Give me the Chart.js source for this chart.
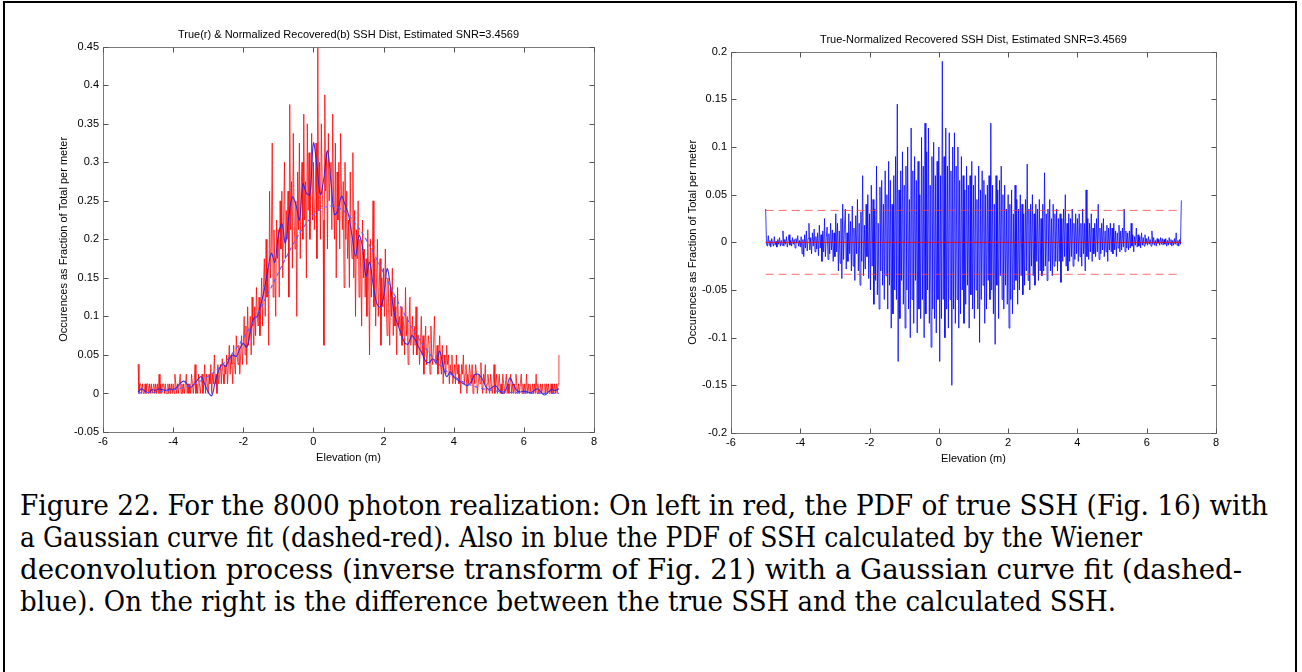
<!DOCTYPE html>
<html>
<head>
<meta charset="utf-8">
<script src="https://cdn.jsdelivr.net/npm/chart.js@4.4.1/dist/chart.umd.min.js"></script>
<style>
html,body{margin:0;padding:0;background:#fff;width:1302px;height:672px;overflow:hidden;}
#frame{position:absolute;left:3px;top:1px;width:1290px;height:700px;border:2px solid #000;}
#c1{position:absolute;left:0;top:0;}
#c2{position:absolute;left:650px;top:0;}
#caption{position:absolute;left:20px;top:490px;font-family:'DejaVu Serif',serif;font-size:28px;line-height:32px;color:#000;}
#caption div{white-space:nowrap;height:32px;}
#caption span{display:inline-block;transform-origin:0 50%;}
</style>
</head>
<body>
<div id="frame"></div>
<canvas id="c1" width="650" height="480"></canvas>
<canvas id="c2" width="652" height="480"></canvas>
<div id="caption">
<div><span>Figure 22. For the 8000 photon realization: On left in red, the PDF of true SSH (Fig. 16) with</span></div>
<div><span>a Gaussian curve fit (dashed-red). Also in blue the PDF of SSH calculated by the Wiener</span></div>
<div><span>deconvolution process (inverse transform of Fig. 21) with a Gaussian curve fit (dashed-</span></div>
<div><span>blue). On the right is the difference between the true SSH and the calculated SSH.</span></div>
</div>
<script>
// ---------------- DATA ----------------
const xTicks = [-6, -4, -2, 0, 2, 4, 6, 8];
const leftTitle = 'True(r) & Normalized Recovered(b) SSH Dist, Estimated SNR=3.4569';
const rightTitle = 'True-Normalized Recovered SSH Dist, Estimated SNR=3.4569';
const xTitle = 'Elevation (m)';
const yTitle = 'Occurences as Fraction of Total per meter';

// Red: true SSH PDF, bins from -5 to 7 every 0.025 m (one row = 0.5 m)
const trueStart = -5, trueStep = 0.025;
const trueSSH = [
0.038,0,0.0125,0.0125,0,0.0125,0,0,0.0125,0,0.0125,0.0125,0,0.0125,0,0.0125,0,0,0.0125,0,
0.0125,0,0.0125,0,0.025,0,0.0125,0,0.0125,0.0125,0,0.0125,0,0,0.0125,0,0.0125,0,0.0125,0,
0.0125,0,0.025,0.0125,0,0.0125,0,0.0125,0.025,0,0.0125,0,0.0125,0,0.0125,0.025,0,0.0125,0,0.0125,
0,0.025,0.0125,0,0.0125,0.0375,0,0.0125,0,0.025,0.0125,0,0.0125,0.025,0,0.0125,0.0375,0,0.025,0.0125,
0,0.025,0.0125,0.0375,0,0.025,0.0125,0.05,0.0125,0.025,0,0.0375,0.0125,0.025,0.0375,0.0125,0.045,0.025,0.0125,0.0375,
0.025,0.05,0.0125,0.0375,0.0625,0.025,0.05,0.0375,0.0125,0.0625,0.0375,0.025,0.075,0.05,0.0375,0.0625,0.025,0.05,0.075,0.0375,
0.0625,0.1,0.05,0.0875,0.0375,0.1125,0.0625,0.075,0.1,0.05,0.125,0.0875,0.0625,0.1125,0.075,0.1375,0.1,0.0875,0.125,0.075,
0.1125,0.15,0.0875,0.1375,0.175,0.1,0.2,0.125,0.1625,0.0625,0.2625,0.15,0.1875,0.325,0.125,0.2125,0.1625,0.1,0.225,0.175,
0.2125,0.125,0.25,0.1875,0.2625,0.15,0.225,0.3,0.175,0.2375,0.2,0.2625,0.125,0.375,0.2125,0.275,0.1625,0.3375,0.225,0.1875,
0.25,0.1,0.2875,0.2125,0.325,0.175,0.2625,0.3,0.2,0.3625,0.225,0.275,0.15,0.35,0.2375,0.3125,0.2,0.2625,0.3375,0.225,
0.3,0.2125,0.25,0.325,0.175,0.45,0.2375,0.3,0.2,0.35,0.275,0.225,0.0625,0.3875,0.2625,0.3125,0.1875,0.3375,0.25,0.2875,
0.3,0.2125,0.3625,0.25,0.2,0.325,0.15,0.2875,0.225,0.3,0.1875,0.3375,0.2625,0.2125,0.275,0.1375,0.3,0.2,0.2625,0.175,
0.225,0.1375,0.2875,0.2,0.175,0.3125,0.15,0.2375,0.1,0.2125,0.175,0.25,0.125,0.2,0.1625,0.0875,0.225,0.15,0.1875,0.125,
0.175,0.1,0.2125,0.15,0.05,0.2,0.125,0.1625,0.25,0.1125,0.175,0.0875,0.15,0.2,0.1,0.1375,0.175,0.0625,0.15,0.1125,
0.1625,0.1,0.1875,0.125,0.075,0.15,0.1125,0.0625,0.1375,0.1,0.1625,0.075,0.125,0.0875,0.1125,0.05,0.1375,0.0875,0.1,0.075,
0.1125,0.0625,0.1,0.0875,0.05,0.1375,0.075,0.1,0.0375,0.0875,0.125,0.0625,0.075,0.1,0.05,0.0875,0.0625,0.1125,0.05,0.075,
0.075,0.0375,0.0625,0.1,0.05,0.075,0.025,0.0625,0.0875,0.0375,0.05,0.075,0.0625,0.025,0.0875,0.05,0.0375,0.0625,0.1,0.05,
0.0375,0.0625,0.025,0.05,0.075,0.0375,0.025,0.0625,0.0125,0.05,0.0375,0.025,0.0625,0.0375,0.05,0.0125,0.0375,0.025,0.05,0.0125,
0.025,0.0375,0.0125,0.05,0.025,0.0375,0.0125,0.025,0,0.0375,0.025,0.05,0.0125,0.025,0.0375,0,0.025,0.0125,0.0375,0.025,
0.0125,0.0375,0,0.025,0.0125,0.0375,0.025,0,0.0125,0.025,0.0125,0.04,0.0125,0,0.025,0.0125,0.0375,0,0.0125,0.025,
0.0125,0,0.025,0.0125,0,0.0125,0.0375,0,0.0125,0.025,0,0.0125,0.025,0,0.0125,0,0.025,0.0125,0,0.0125,
0.025,0,0.0125,0,0.0125,0.025,0,0.0125,0,0.0125,0,0.025,0.0125,0,0.0125,0,0.0125,0.025,0,0.0125,
0,0.0125,0,0.025,0,0.0125,0,0.0125,0,0,0.0125,0,0.0125,0,0.025,0,0.0125,0,0,0.0125,
0,0.0125,0,0,0.0125,0,0.0125,0,0.0125,0,0,0.0125,0,0.0125,0,0.0125,0,0.0125,0,0.0125,
0.05
];

// Blue: recovered (Wiener deconvolution) PDF, every 0.1 m from -5 to 7
const recStart = -5, recStep = 0.1;
const recoveredSSH = [
0.002,0.006,0.003,0.001,0.005,0.004,0.006,0.005,0.004,0.006,
0.005,0.008,0.013,0.016,0.012,0.008,0.012,0.018,0.022,0.012,
0.002,-0.003,0.015,0.03,0.038,0.035,0.045,0.05,0.048,0.058,
0.065,0.06,0.08,0.098,0.1,0.115,0.135,0.16,0.182,0.17,
0.205,0.22,0.195,0.23,0.255,0.245,0.225,0.272,0.26,0.258,
0.325,0.295,0.258,0.28,0.315,0.275,0.232,0.238,0.256,0.245,
0.232,0.205,0.178,0.205,0.19,0.152,0.17,0.142,0.118,0.112,
0.125,0.162,0.138,0.105,0.09,0.078,0.066,0.064,0.075,0.07,
0.06,0.052,0.042,0.04,0.045,0.04,0.055,0.035,0.022,0.028,
0.022,0.018,0.015,0.012,0.01,0.015,0.024,0.025,0.02,0.01,
0.005,0.008,0.01,0.004,0,0.006,0.02,0.012,0.004,0.002,
0.003,0.002,0.001,0.004,0.006,0.001,-0.002,0.002,0.005,0.004,
0.006
];

// Blue dashed: Gaussian fit of recovered PDF, every 0.25 m from -5 to 7
const fitStart = -5, fitStep = 0.25;
const gaussFit = [
0.0007,0.0011,0.0018,0.0030,0.0047,0.0071,0.0107,0.0156,0.0222,0.0309,
0.0419,0.0555,0.0717,0.0904,0.1112,0.1336,0.1566,0.1791,0.1999,0.2177,
0.2314,0.2401,0.243,0.2401,0.2314,0.2177,0.1999,0.1791,0.1566,0.1336,
0.1112,0.0904,0.0717,0.0555,0.0419,0.0309,0.0222,0.0156,0.0107,0.0071,
0.0047,0.0030,0.0018,0.0011,0.0007,0.0004,0.0002,0.0001,0.0001
];

// Right: true minus recovered, every 0.025 m from -5 to 7 (one row = 0.5 m)
const diffStart = -5, diffStep = 0.025;
const diffSSH = [
0.035,-0.002,-0.004,0.007,-0.003,0.002,-0.005,0.004,-0.001,-0.004,0.006,-0.003,0.001,-0.005,0.003,-0.002,0.005,-0.004,0.002,-0.003,
0.012,-0.004,0.003,-0.002,0.006,-0.005,0.001,0.008,-0.003,0.002,-0.004,0.005,-0.002,0.003,-0.006,0.004,-0.001,0.007,-0.004,0.002,
-0.005,0.006,-0.012,0.003,-0.015,0.008,-0.006,0.012,-0.009,0.004,0.02,-0.008,0.005,-0.012,0.01,-0.004,0.014,-0.01,0.006,-0.007,
0.01,-0.014,0.018,-0.006,0.008,-0.02,0.012,-0.01,0.025,-0.015,0.005,0.016,-0.018,0.009,-0.012,0.02,-0.008,0.013,-0.02,0.01,
-0.015,0.03,-0.01,0.02,-0.03,0.012,-0.022,0.025,-0.038,0.04,-0.018,0.015,0.035,-0.028,0.01,-0.02,0.03,-0.012,0.022,-0.03,
0.038,-0.025,0.015,-0.04,0.028,-0.012,0.045,-0.03,0.02,-0.045,0.032,-0.02,0.07,-0.035,0.018,-0.028,0.04,-0.015,0.05,-0.038,
0.03,-0.05,0.06,-0.025,0.045,-0.065,0.035,-0.04,0.08,-0.055,0.02,-0.07,0.058,-0.03,0.065,-0.045,0.04,-0.06,0.075,-0.035,
0.05,-0.07,0.085,-0.045,0.065,-0.09,0.04,-0.075,0.07,-0.05,0.09,-0.06,0.145,-0.125,0.055,-0.08,0.075,-0.04,0.095,-0.065,
0.06,-0.09,0.08,-0.05,0.1,-0.07,0.045,-0.1,0.12,-0.06,0.075,-0.085,0.09,-0.04,0.065,-0.095,0.085,-0.07,0.05,-0.08,
0.11,-0.06,0.08,-0.1,0.125,-0.075,0.095,-0.05,0.12,-0.085,0.06,-0.11,0.09,-0.07,0.105,-0.08,0.07,-0.095,0.085,-0.06,
0.1,-0.125,0.07,-0.08,0.19,-0.06,0.09,-0.1,0.12,-0.07,0.08,-0.09,0.115,-0.06,0.075,-0.15,0.1,-0.07,0.115,-0.085,
0.08,-0.06,0.1,-0.09,0.065,-0.075,0.09,-0.05,0.07,-0.085,0.055,-0.065,0.08,-0.045,0.06,-0.09,0.07,-0.055,0.085,-0.07,
0.06,-0.08,0.07,-0.05,0.045,-0.07,0.08,-0.105,0.055,-0.06,0.075,-0.045,0.065,-0.085,0.05,-0.07,0.06,-0.04,0.07,-0.06,
0.125,-0.05,0.06,-0.075,0.04,-0.107,0.07,-0.045,0.055,-0.08,0.065,-0.035,0.08,-0.06,0.05,-0.07,0.06,-0.045,0.035,-0.065,
0.05,-0.09,0.04,-0.06,0.055,-0.075,0.03,-0.05,0.06,-0.04,0.045,-0.065,0.035,-0.05,0.05,-0.035,0.04,-0.055,0.03,-0.045,
0.045,-0.03,0.082,-0.04,0.035,-0.05,0.04,-0.025,0.05,-0.035,0.03,-0.045,0.04,-0.02,0.035,-0.04,0.045,-0.03,0.025,-0.035,
0.04,-0.03,0.073,-0.025,0.03,-0.04,0.035,-0.02,0.045,-0.03,0.025,-0.035,0.04,-0.025,0.03,-0.02,0.035,-0.03,0.025,-0.02,
0.03,-0.042,0.025,-0.02,0.035,-0.015,0.05,-0.025,0.02,-0.03,0.03,-0.02,0.025,-0.015,0.035,-0.025,0.02,-0.018,0.03,-0.012,
0.025,-0.02,0.03,-0.015,0.02,-0.025,0.035,-0.012,0.02,-0.03,0.055,-0.015,0.025,-0.018,0.02,-0.01,0.03,-0.02,0.015,-0.012,
0.02,-0.015,0.025,-0.01,0.04,-0.018,0.015,-0.012,0.02,-0.008,0.025,-0.015,0.012,-0.01,0.018,-0.02,0.015,-0.008,0.02,-0.01,
0.015,-0.012,0.02,-0.008,0.012,-0.015,0.01,-0.006,0.018,-0.01,0.012,-0.008,0.015,-0.005,0.035,-0.01,0.012,-0.006,0.01,-0.008,
0.012,-0.006,0.02,-0.004,0.008,-0.01,0.006,-0.003,0.015,-0.005,0.008,-0.004,0.006,-0.006,0.01,-0.003,0.005,-0.004,0.008,-0.002,
0.004,-0.003,0.006,-0.002,0.003,-0.004,0.012,-0.002,0.005,-0.003,0.002,-0.004,0.004,-0.001,0.003,-0.003,0.005,-0.002,0.004,-0.003,
0.003,-0.002,0.004,-0.004,0.002,-0.003,0.005,-0.002,0.003,-0.004,0.002,-0.003,0.004,-0.002,0.01,-0.003,0.002,-0.004,0.003,-0.002,
0.044
];

// Right: zero line and +/- band lines
const bandX = [-5, 7];
const zeroLine = [0, 0];
const upperBand = [0.0335, 0.0335];
const lowerBand = [-0.0335, -0.0335];

// ---------------- CHARTS ----------------
Chart.defaults.font.family = "'Liberation Sans', Arial, sans-serif";
Chart.defaults.font.size = 11;
Chart.defaults.color = '#000';

function toPoints(start, step, values) {
  return values.map((v, i) => ({x: +(start + i * step).toFixed(4), y: v}));
}
function pairPoints(xs, ys) { return xs.map((x, i) => ({x: x, y: ys[i]})); }
const fmt = v => String(+Number(v).toFixed(4));

const matlabBox = {
  id: 'matlabBox',
  afterDatasetsDraw(chart) {
    const {ctx, chartArea: a, scales} = chart;
    const x = scales.x, y = scales.y;
    ctx.save();
    ctx.lineWidth = 1;
    ctx.strokeStyle = '#7a7a7a';
    ctx.beginPath();
    const L = Math.round(a.left) + 0.5, R = Math.round(a.right) + 0.5;
    const T = Math.round(a.top) + 0.5, B = Math.round(a.bottom) + 0.5;
    ctx.moveTo(L, T); ctx.lineTo(R, T); ctx.lineTo(R, B); ctx.lineTo(L, B); ctx.closePath();
    ctx.stroke();
    ctx.strokeStyle = '#555';
    ctx.beginPath();
    x.ticks.forEach(t => {
      const px = Math.round(x.getPixelForValue(t.value)) + 0.5;
      ctx.moveTo(px, B); ctx.lineTo(px, B - 5);
      ctx.moveTo(px, T); ctx.lineTo(px, T + 5);
    });
    y.ticks.forEach(t => {
      const py = Math.round(y.getPixelForValue(t.value)) + 0.5;
      ctx.moveTo(L, py); ctx.lineTo(L + 5, py);
      ctx.moveTo(R, py); ctx.lineTo(R - 5, py);
    });
    ctx.stroke();
    ctx.restore();
  }
};

function scalesFor(ymin, ymax, ystep, yWidth) {
  return {
    x: {
      type: 'linear', min: xTicks[0], max: xTicks[xTicks.length - 1],
      afterBuildTicks: s => { s.ticks = xTicks.map(v => ({value: v})); },
      ticks: {padding: 3, maxRotation: 0, autoSkip: false, callback: fmt, color: '#000'},
      grid: {display: false, drawTicks: false},
      border: {display: false},
      title: {display: true, text: xTitle, padding: 0, color: '#000'},
      afterFit: s => { s.height = 32.6; }
    },
    y: {
      type: 'linear', min: ymin, max: ymax,
      ticks: {stepSize: ystep, padding: 4, callback: fmt, color: '#000'},
      grid: {display: false, drawTicks: false},
      border: {display: false},
      title: {display: true, text: yTitle, padding: 0, color: '#000'},
      afterFit: s => { s.width = yWidth; }
    }
  };
}

const lineBase = {pointRadius: 0, borderWidth: 1, fill: false, borderJoinStyle: 'round', tension: 0};

new Chart(document.getElementById('c1'), {
  type: 'line',
  data: {
    datasets: [
      Object.assign({}, lineBase, {label: 'Gaussian fit', data: toPoints(fitStart, fitStep, gaussFit),
        borderColor: 'rgba(90,90,255,0.95)', borderWidth: 1.2, borderDash: [4, 3], tension: 0.4, order: 0}),
      Object.assign({}, lineBase, {label: 'Recovered', data: toPoints(recStart, recStep, recoveredSSH),
        borderColor: 'rgba(50,30,220,0.9)', borderWidth: 1.1, tension: 0.35, order: 1}),
      Object.assign({}, lineBase, {label: 'True', data: toPoints(trueStart, trueStep, trueSSH),
        borderColor: 'rgba(255,0,0,0.85)', borderWidth: 0.9, order: 2})
    ]
  },
  options: {
    responsive: false, animation: false, events: [],
    layout: {padding: {left: 57.4, right: 56, top: 27.9, bottom: 15.4}},
    plugins: {
      legend: {display: false}, tooltip: {enabled: false},
      title: {display: true, text: leftTitle, fullSize: false, padding: {top: 0, bottom: 5.6},
        font: {size: 11, weight: 'normal'}, color: '#000'}
    },
    scales: scalesFor(-0.05, 0.45, 0.05, 45.6)
  },
  plugins: [matlabBox]
});

new Chart(document.getElementById('c2'), {
  type: 'line',
  data: {
    datasets: [
      Object.assign({}, lineBase, {label: 'zero', data: pairPoints(bandX, zeroLine), borderColor: 'rgba(255,0,0,0.9)', order: 0}),
      Object.assign({}, lineBase, {label: 'upper', data: pairPoints(bandX, upperBand), borderColor: 'rgba(255,60,60,0.75)', borderDash: [8, 5], order: 0}),
      Object.assign({}, lineBase, {label: 'lower', data: pairPoints(bandX, lowerBand), borderColor: 'rgba(255,60,60,0.75)', borderDash: [8, 5], order: 0}),
      Object.assign({}, lineBase, {label: 'Difference', data: toPoints(diffStart, diffStep, diffSSH), borderColor: 'rgba(0,0,255,0.85)', borderWidth: 0.9, order: 1})
    ]
  },
  options: {
    responsive: false, animation: false, events: [],
    layout: {padding: {left: 36.4, right: 86, top: 32.9, bottom: 14.4}},
    plugins: {
      legend: {display: false}, tooltip: {enabled: false},
      title: {display: true, text: rightTitle, fullSize: false, padding: {top: 0, bottom: 5.6},
        font: {size: 11, weight: 'normal'}, color: '#000'}
    },
    scales: scalesFor(-0.2, 0.2, 0.05, 44.6)
  },
  plugins: [matlabBox]
});

// ---------------- CAPTION FIT ----------------
const captionWidths = [1248, 1122, 1222, 1096];
function fitCaption() {
  const spans = document.querySelectorAll('#caption span');
  spans.forEach((s, i) => {
    s.style.transform = 'none';
    const w = s.getBoundingClientRect().width;
    if (w > 0) s.style.transform = 'scaleX(' + (captionWidths[i] / w) + ')';
  });
}
fitCaption();
if (document.fonts && document.fonts.ready) document.fonts.ready.then(fitCaption);
</script>
</body>
</html>
